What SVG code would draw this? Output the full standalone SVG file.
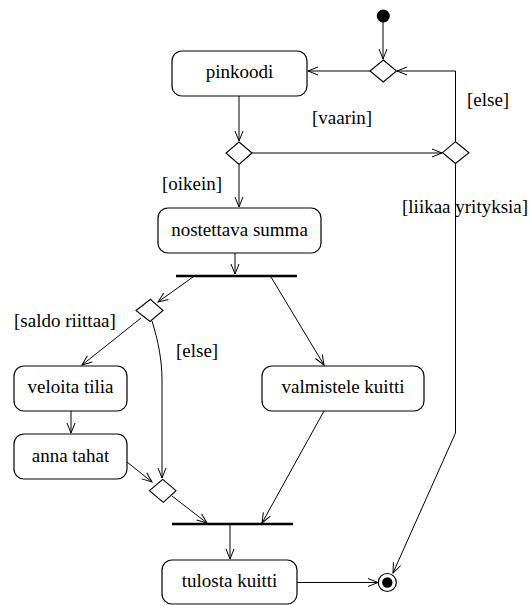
<svg xmlns="http://www.w3.org/2000/svg" width="531" height="605" viewBox="0 0 531 605">
  <style>
    .box { fill: #ffffff; stroke: #000000; stroke-width: 1.2; }
    .dec { fill: #ffffff; stroke: #000000; stroke-width: 1.1; }
    .bar { stroke: #000000; stroke-width: 2.6; }
    .edge { fill: none; stroke: #000000; stroke-width: 1; }
    .lbl { font-family: "Liberation Serif", Tinos, "Nimbus Roman", "Nimbus Roman No9 L", "Times New Roman", Times, "DejaVu Serif", "Noto Serif", FreeSerif, serif; font-size: 19px; fill: #000000; }
    .mid { text-anchor: middle; }
  </style>
  <defs>
    <marker id="open" viewBox="-11 -5 12 10" refX="0" refY="0" markerWidth="12" markerHeight="10" markerUnits="userSpaceOnUse" orient="auto">
      <path d="M-10,-4 L0,0 L-10,4" fill="none" stroke="#000000" stroke-width="1"/>
    </marker>
  </defs>

  <!-- transitions -->
  <g id="connectors">
    <line class="edge" x1="383" y1="20" x2="383" y2="59" marker-end="url(#open)"/>
    <line class="edge" x1="370" y1="71" x2="308" y2="71" marker-end="url(#open)"/>
    <polyline class="edge" points="455.5,142 455.5,71 397,71" marker-end="url(#open)"/>
    <line class="edge" x1="239" y1="96" x2="239" y2="141" marker-end="url(#open)"/>
    <line class="edge" x1="252" y1="153" x2="442" y2="153" marker-end="url(#open)"/>
    <line class="edge" x1="239" y1="165" x2="239" y2="207" marker-end="url(#open)"/>
    <line class="edge" x1="235" y1="253" x2="235" y2="274" marker-end="url(#open)"/>
    <line class="edge" x1="193" y1="277" x2="158" y2="302" marker-end="url(#open)"/>
    <line class="edge" x1="141" y1="318" x2="82" y2="365" marker-end="url(#open)"/>
    <path class="edge" d="M152,321 C158,340 162,360 162,380 L162,478" marker-end="url(#open)"/>
    <line class="edge" x1="271" y1="277" x2="324" y2="365" marker-end="url(#open)"/>
    <line class="edge" x1="71" y1="411" x2="71" y2="433" marker-end="url(#open)"/>
    <line class="edge" x1="127" y1="462" x2="152" y2="482" marker-end="url(#open)"/>
    <line class="edge" x1="172" y1="496" x2="207" y2="523" marker-end="url(#open)"/>
    <line class="edge" x1="324" y1="411" x2="262" y2="523" marker-end="url(#open)"/>
    <line class="edge" x1="230" y1="525" x2="230" y2="559" marker-end="url(#open)"/>
    <line class="edge" x1="297" y1="582.5" x2="378" y2="582.5" marker-end="url(#open)"/>
    <polyline class="edge" points="455.5,164 455.5,433 393,573" marker-end="url(#open)"/>
  </g>

  <!-- initial and final states -->
  <g id="start">
    <circle cx="383.3" cy="16" r="6.5" fill="#000000"/>
  </g>
  <g id="end">
    <circle cx="387.3" cy="582.5" r="9" fill="#ffffff" stroke="#000000" stroke-width="1.2"/>
    <circle cx="387.3" cy="582.5" r="5.2" fill="#000000"/>
  </g>

  <!-- decision nodes -->
  <g id="d-retry"><polygon class="dec" points="383.3,60 396.5,71 383.3,82 370,71"/></g>
  <g id="d-pin"><polygon class="dec" points="239,142 252,153 239,164.5 226,153"/></g>
  <g id="d-count"><polygon class="dec" points="455.5,141.7 469,152.7 455.5,163.5 442.5,152.7"/></g>
  <g id="d-saldo"><polygon class="dec" points="150.5,299.3 163,310.5 150,321.5 136,310.5"/></g>
  <g id="d-merge"><polygon class="dec" points="162.8,479.3 176,490.7 163.3,502.3 149.5,490.7"/></g>

  <!-- fork and join bars -->
  <g id="fork"><line class="bar" x1="176" y1="276" x2="297" y2="276"/></g>
  <g id="join"><line class="bar" x1="172" y1="524" x2="293" y2="524"/></g>

  <!-- action states -->
  <g id="pinkoodi">
    <rect class="box" x="172" y="51" width="135" height="45" rx="10"/>
    <text class="lbl mid" x="239.5" y="78">pinkoodi</text>
  </g>
  <g id="nostettava-summa">
    <rect class="box" x="158" y="208" width="163" height="45" rx="10"/>
    <text class="lbl mid" x="239.5" y="236">nostettava summa</text>
  </g>
  <g id="veloita-tilia">
    <rect class="box" x="14" y="366" width="113" height="45" rx="10"/>
    <text class="lbl mid" x="70.5" y="393">veloita tilia</text>
  </g>
  <g id="anna-tahat">
    <rect class="box" x="14" y="434" width="113" height="45" rx="10"/>
    <text class="lbl mid" x="70.5" y="461.5">anna tahat</text>
  </g>
  <g id="valmistele-kuitti">
    <rect class="box" x="262" y="366" width="162" height="45" rx="10"/>
    <text class="lbl mid" x="343" y="393">valmistele kuitti</text>
  </g>
  <g id="tulosta-kuitti">
    <rect class="box" x="162" y="560" width="135" height="44" rx="10"/>
    <text class="lbl mid" x="229.5" y="587">tulosta kuitti</text>
  </g>

  <!-- guard labels -->
  <g id="guards">
    <text class="lbl" x="312" y="124">[vaarin]</text>
    <text class="lbl" x="467" y="106">[else]</text>
    <text class="lbl" x="162" y="190">[oikein]</text>
    <text class="lbl" x="402" y="213">[liikaa yrityksia]</text>
    <text class="lbl" x="14" y="327">[saldo riittaa]</text>
    <text class="lbl" x="176" y="357">[else]</text>
  </g>
</svg>
